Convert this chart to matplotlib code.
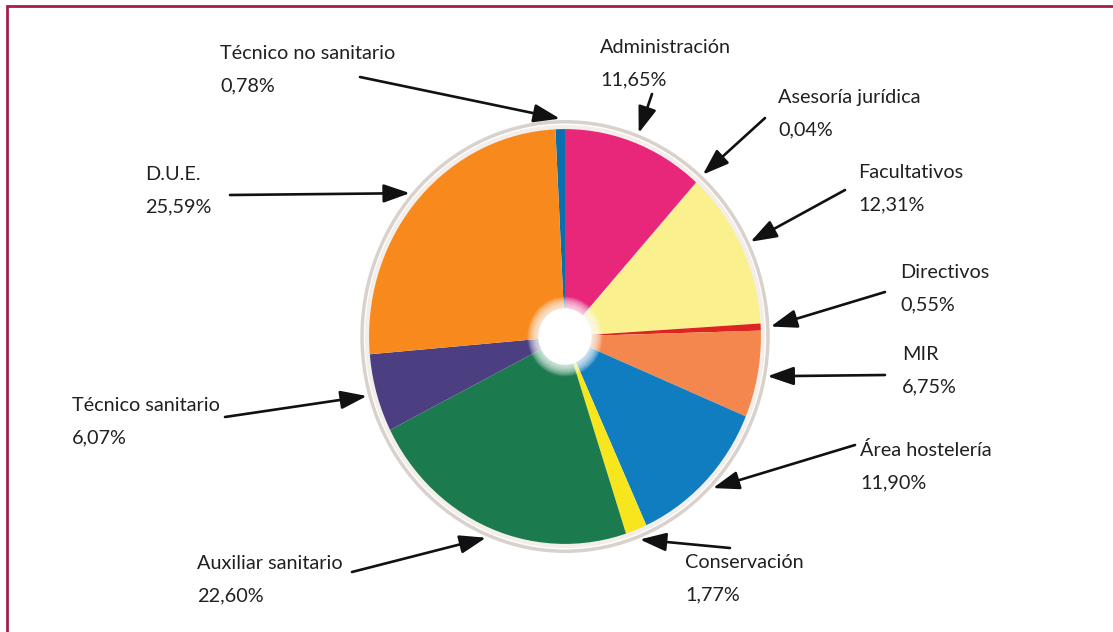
import matplotlib
matplotlib.use("Agg")
import numpy as np
import matplotlib.pyplot as plt
from matplotlib.patches import Circle
from matplotlib.lines import Line2D

plt.rcParams['font.family'] = ['Lato', 'DejaVu Sans']

# Staff distribution by category (%)
categories = ["Técnico no sanitario", "Administración", "Asesoría jurídica",
              "Facultativos", "Directivos", "MIR", "Área hostelería",
              "Conservación", "Auxiliar sanitario", "Técnico sanitario", "D.U.E."]
values = [0.78, 11.65, 0.04, 12.31, 0.55, 6.75, 11.90, 1.77, 22.60, 6.07, 25.59]
colors = ["#0b6fae", "#e8277b", "#6a3c8c", "#fbf08e", "#de2420", "#f4874d",
          "#0f7dc0", "#f7e51d", "#1b7a4e", "#4b3f82", "#f7891d"]

# label anchor (left x, first baseline) and arrow tail, in figure pixels
label_pos = [(220, 59), (600, 53), (778, 103), (858, 178), (900, 278), (902, 360),
             (860, 456), (685, 568), (197, 569), (72, 411), (145, 180)]
arrow_tail = [(360, 77), (652, 94), (765, 118), (845, 190), (885, 292), (885, 375),
              (855, 445), (730, 548), (352, 572), (225, 417), (230, 195)]

W, H = 1113, 632
fig = plt.figure(figsize=(W / 100, H / 100), dpi=100)
fig.patch.set_facecolor("white")

# pie axes: colored disc spans x 367..763, y 127..546 (pixels)
cx, cy, rx, ry = 565, 336.5, 198, 209.5
lim = 1.08
ax = fig.add_axes([(cx - rx * lim) / W, 1 - (cy + ry * lim) / H,
                   2 * rx * lim / W, 2 * ry * lim / H])
start = 90 + values[0] * 3.6
wedges, _ = ax.pie(values, colors=colors, startangle=start, counterclock=False,
                   radius=1.0, wedgeprops=dict(linewidth=0))
ax.set_aspect("auto")
ax.set_xlim(-lim, lim)
ax.set_ylim(-lim, lim)
ax.axis("off")

# soft rim around the disc
ax.add_patch(Circle((0, 0), 1.0, fill=False, edgecolor="#f3eeea", lw=3.0, zorder=5))
ax.add_patch(Circle((0, 0), 1.025, fill=False, edgecolor="#d8d1cc", lw=2.5, zorder=5))

# white hub with a soft glow
for r in np.linspace(0.19, 0.14, 12):
    ax.add_patch(Circle((0, 0), r, facecolor="white", edgecolor="none", alpha=0.12, zorder=6))
ax.add_patch(Circle((0, 0), 0.135, facecolor="white", edgecolor="none", zorder=7))

# overlay in pixel coordinates for labels, arrows and frame
ov = fig.add_axes([0, 0, 1, 1], zorder=10)
ov.set_xlim(0, W)
ov.set_ylim(H, 0)
ov.axis("off")
ov.patch.set_alpha(0)

frame_color = "#a51d4b"
ov.add_line(Line2D([7, 7, W], [H, 6, 6], color=frame_color, lw=2.0,
                   solid_joinstyle="miter"))

txt_kw = dict(fontsize=14.3, color="#231f20", va="baseline", ha="left")
for name, val, (lx, ly), tail, w in zip(categories, values, label_pos, arrow_tail, wedges):
    ov.text(lx, ly, name, **txt_kw)
    ov.text(lx, ly + 32, f"{val:.2f}".replace(".", ",") + "%", **txt_kw)
    mid = np.deg2rad((w.theta1 + w.theta2) / 2)
    tip = (1.04 * np.cos(mid), 1.04 * np.sin(mid))
    ov.annotate("", xy=tip, xycoords=ax.transData, xytext=tail, textcoords="data",
                arrowprops=dict(arrowstyle="-|>,head_length=0.8,head_width=0.28",
                                mutation_scale=20, color="#111111", lw=1.9,
                                shrinkA=0, shrinkB=0))

fig.savefig("out.png", dpi=100, facecolor="white")
